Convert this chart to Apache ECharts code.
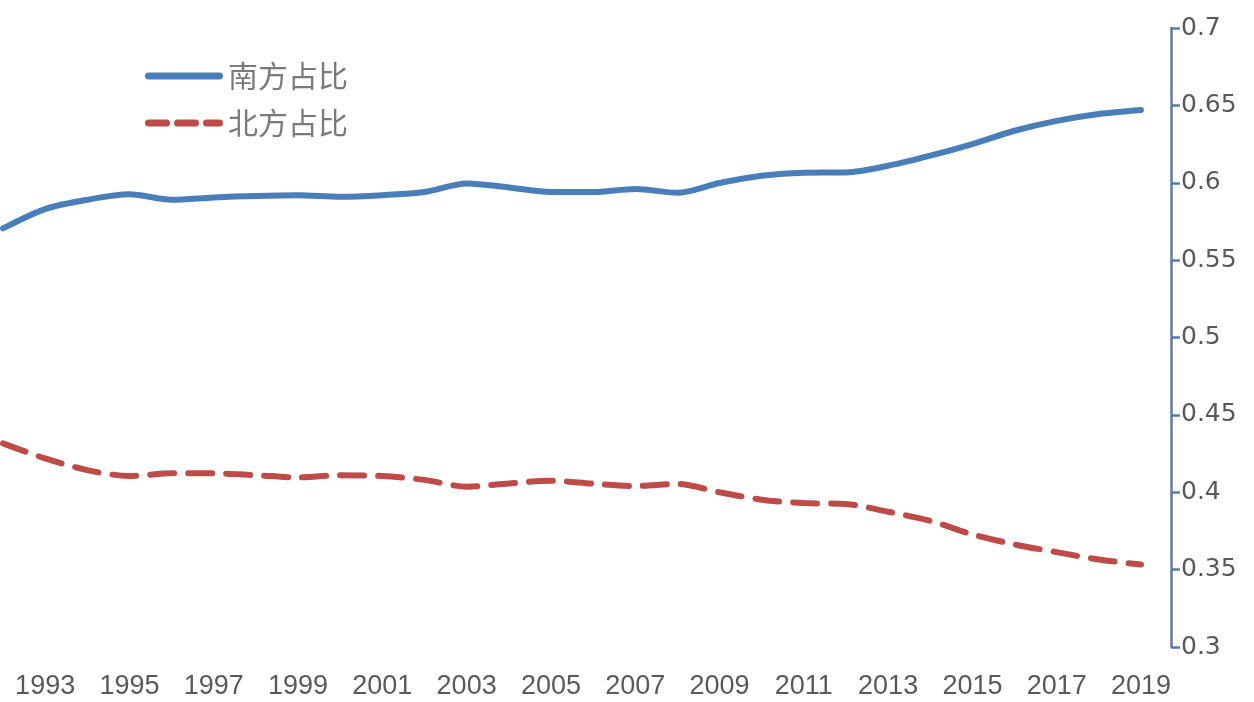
<!DOCTYPE html>
<html>
<head>
<meta charset="utf-8">
<script src="https://cdn.jsdelivr.net/npm/echarts@6/dist/echarts.min.js"></script>
<style>
html,body{margin:0;padding:0;background:#fff;}
#c{width:1254px;height:702px;}
</style>
</head>
<body>
<div id="c"></div>
<script>
const years = ['1992','1993','1994','1995','1996','1997','1998','1999','2000','2001','2002','2003','2004','2005','2006','2007','2008','2009','2010','2011','2012','2013','2014','2015','2016','2017','2018','2019'];
const southShare = [0.5705,0.583,0.589,0.5925,0.589,0.5905,0.5915,0.592,0.591,0.592,0.594,0.5995,0.597,0.594,0.5940,0.596,0.5935,0.5998,0.6045,0.6065,0.6067,0.611,0.6175,0.625,0.6336,0.640,0.6444,0.647];
const northShare = [0.4316,0.4219,0.4143,0.4105,0.4122,0.4122,0.411,0.4096,0.411,0.4105,0.408,0.4036,0.4057,0.4074,0.4055,0.404,0.4054,0.400,0.3952,0.393,0.3924,0.3874,0.3815,0.3728,0.3663,0.3613,0.3565,0.3533];
const seriesNames = ['南方占比','北方占比'];

const chart = echarts.init(document.getElementById('c'));
chart.setOption({
  backgroundColor: '#ffffff',
  animation: false,
  legend: {
    orient: 'vertical',
    left: 140,
    top: 55,
    itemWidth: 78,
    itemHeight: 7,
    itemGap: 15,
    textStyle: { fontFamily: 'Noto Sans CJK SC', fontSize: 30, lineHeight: 32, color: '#7a7a7a', padding: [0,0,0,0] },
    data: [
      { name: seriesNames[0], icon: 'path://M3.5,0H74.5A3.5,3.5 0 0 1 74.5,7H3.5A3.5,3.5 0 0 1 3.5,0Z' },
      { name: seriesNames[1], icon: 'path://M3.5,0H21.5A3.5,3.5 0 0 1 21.5,7H3.5A3.5,3.5 0 0 1 3.5,0Z M32.5,0H50.5A3.5,3.5 0 0 1 50.5,7H32.5A3.5,3.5 0 0 1 32.5,0Z M61.5,0H74.5A3.5,3.5 0 0 1 74.5,7H61.5A3.5,3.5 0 0 1 61.5,0Z' }
    ]
  },
  grid: { left: 3, right: 113, top: 28, bottom: 55, containLabel: false },
  xAxis: {
    type: 'category',
    data: years,
    boundaryGap: false,
    axisLine: { show: false },
    axisTick: { show: false },
    splitLine: { show: false },
    axisLabel: {
      interval: function (i) { return i % 2 === 1; },
      margin: 26,
      fontFamily: 'Liberation Sans',
      fontSize: 27,
      color: '#595959'
    }
  },
  yAxis: {
    type: 'value',
    position: 'right',
    offset: 30,
    min: 0.3,
    max: 0.7,
    interval: 0.05,
    splitLine: { show: false },
    axisLine: { show: true, lineStyle: { color: '#5b7bab', width: 2.5 } },
    axisTick: { show: true, length: 9, lineStyle: { color: '#5b7bab', width: 2.5 } },
    axisLabel: {
      margin: 10,
      fontFamily: 'DejaVu Sans',
      fontSize: 25,
      color: '#595959',
      formatter: function (v) { return String(+v.toFixed(2)); }
    }
  },
  series: [
    {
      name: seriesNames[0],
      type: 'line',
      data: southShare,
      smooth: 0.3,
      showSymbol: false,
      symbol: 'none',
      itemStyle: { color: '#4a7ebb' },
      lineStyle: { color: '#4a7ebb', width: 6, cap: 'round' }
    },
    {
      name: seriesNames[1],
      type: 'line',
      data: northShare,
      smooth: 0.3,
      showSymbol: false,
      symbol: 'none',
      itemStyle: { color: '#be4b48' },
      lineStyle: { color: '#be4b48', width: 6, type: [24, 14], cap: 'round' }
    }
  ]
});
</script>
</body>
</html>
